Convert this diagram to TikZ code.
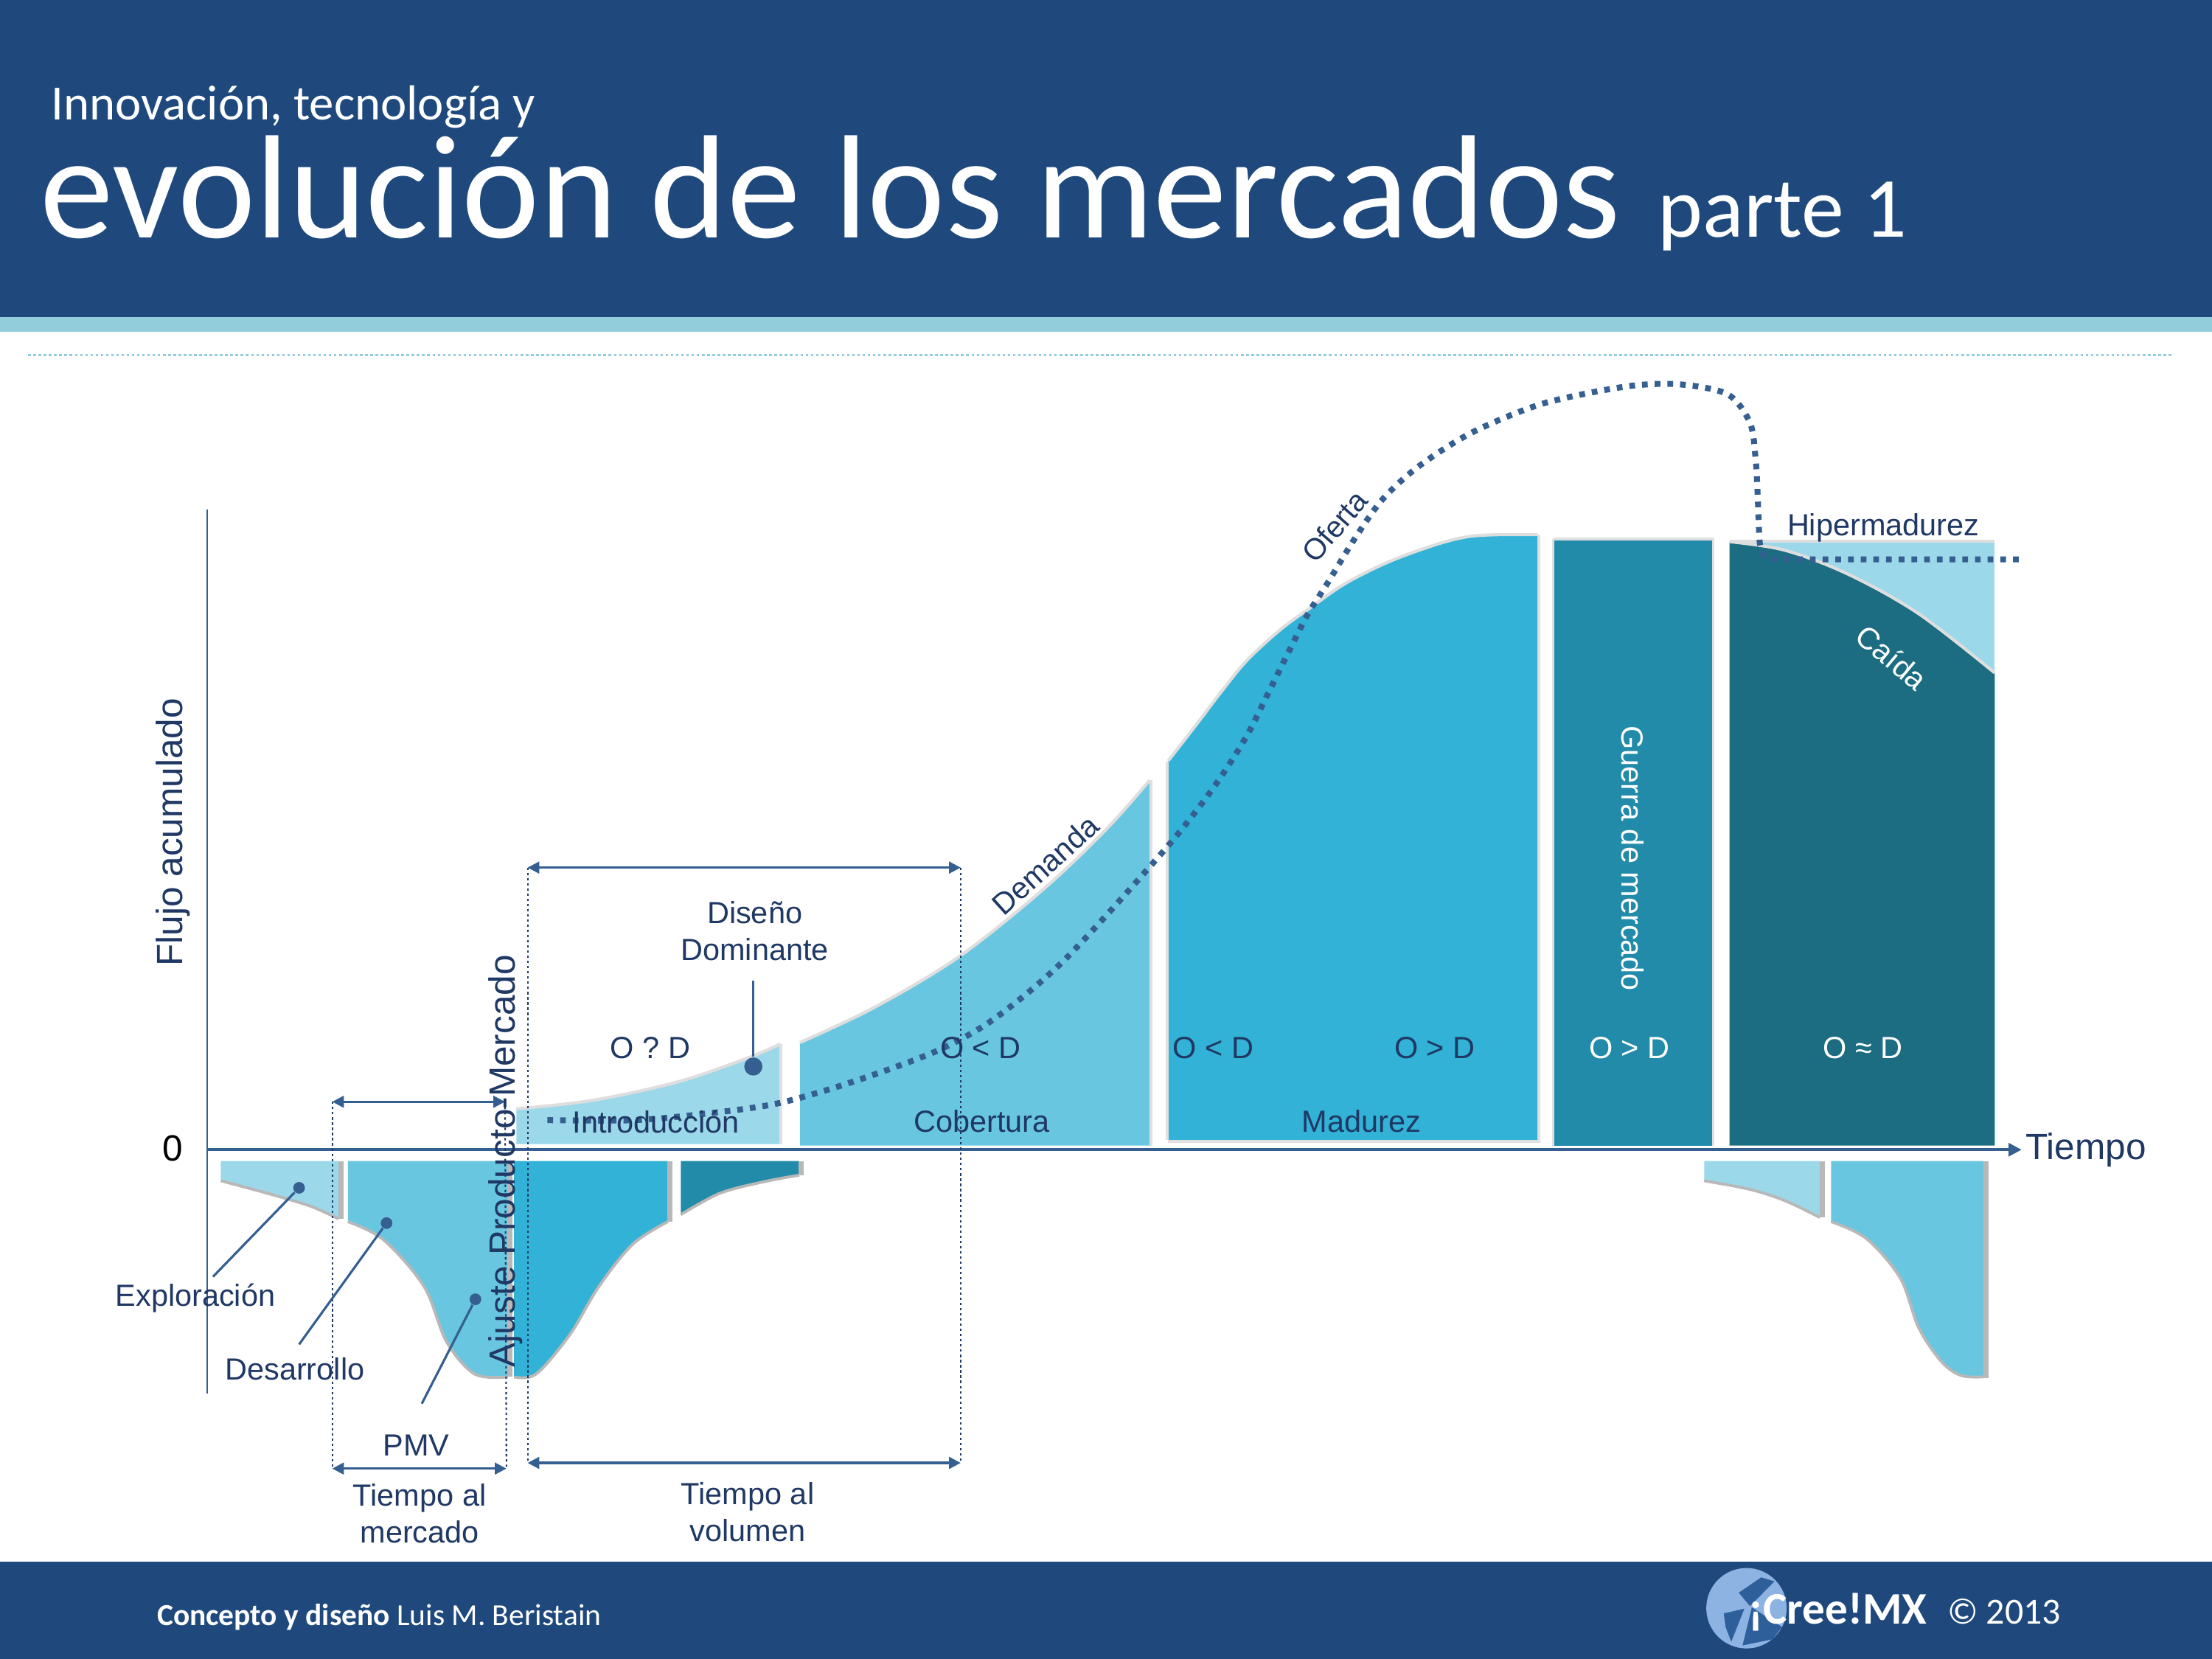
\documentclass[tikz,border=0pt]{standalone}
\usepackage{fontspec}
\setmainfont{Liberation Sans}
\newfontfamily\calib{Carlito}
\usetikzlibrary{arrows.meta}
\definecolor{hdr}{HTML}{1F497D}
\definecolor{strip}{HTML}{92CDDC}
\definecolor{lineb}{HTML}{365F91}
\definecolor{ink}{HTML}{1F3864}
\definecolor{cA}{HTML}{9BD8EA}
\definecolor{cB}{HTML}{69C6E0}
\definecolor{cC}{HTML}{32B2D6}
\definecolor{cD}{HTML}{228BAA}
\definecolor{cE}{HTML}{1C6C82}
\definecolor{logoA}{HTML}{8DB3E2}
\definecolor{logoB}{HTML}{2F5F9A}
\newcommand\lab{\fontsize{11.8}{14.2}\selectfont}
\newcommand\axlab{\fontsize{14.1}{17}\selectfont}
\tikzset{
  x=0.019133cm,y=-0.019133cm,
  crv/.style={smooth,tension=0.55},
  topedge/.style={draw=black!13,line width=1.2pt,line cap=butt},
  botedge/.style={draw=black!28,line width=1.1pt},
  rightedge/.style={draw=black!28,line width=2pt},
  sideedge/.style={draw=black!12,line width=1pt},
  txt/.style={text=ink,font=\lab,align=center,inner sep=0pt},
  wtxt/.style={text=white,font=\lab,align=center,inner sep=0pt},
  dim/.style={lineb,line width=0.9pt,{Triangle[width=4.5pt,length=4.5pt]}-{Triangle[width=4.5pt,length=4.5pt]}},
  guide/.style={ink,line width=0.6pt,dash pattern=on 0.9pt off 1.1pt},
  offer/.style={lineb,line width=2.3pt,dash pattern=on 2.2pt off 2.7pt},
  callout/.style={lineb,line width=0.9pt},
  dotn/.style={circle,fill=lineb,inner sep=0pt,minimum size=#1}
}
\def\curveIntro{(366,786) (420,780) (480,767) (530,750) (553,740)}
\def\curveCob{(567,739) (620,714) (680,678) (740,630) (785,587) (815,553)}
\def\curveMad{(828,539.4) (847,515) (866,490) (884,468) (908,446) (930,430) (954,413.4) (985,398) (1018,386) (1040,380.5) (1062,379) (1090,379)}
\def\curveFall{(1226,384) (1265,390) (1310,407) (1360,435) (1414,477)}
\def\curveExp{(156.5,837) (190,846) (220,855) (240,864)}
\def\curveDes{(246.6,866) (272,879) (300.6,912) (316.5,951) (336.5,974) (360,976)}
\def\curvePmv{(364.4,976) (380,974) (404,946) (424.5,912) (448.5,882) (473.4,866)}
\def\curveDark{(482.6,861) (510,846) (540,838) (566.6,833)}
\def\curveRA{(1208,837) (1240,843) (1265,851) (1290,863)}
\def\curveRB{(1298,866) (1323,878) (1347,906) (1360,941) (1376,965) (1390,975) (1406,976)}
\begin{document}
\begin{tikzpicture}
\useasboundingbox (0,0) rectangle (1568,1176);
% bands
\fill[hdr] (0,0) rectangle (1568,225);
\fill[strip] (0,225) rectangle (1568,235);
\fill[hdr] (0,1107) rectangle (1568,1176);
\draw[strip,line width=0.8pt,dash pattern=on 1pt off 1pt] (20,251.5) -- (1540,251.5);
% title
\node[anchor=base west,inner sep=0pt,text=white,font=\calib\fontsize{19}{22}\selectfont] (t1) at (36,85) {Innovación, tecnología y};
\node[anchor=base west,inner sep=0pt,text=white,font=\calib\fontsize{56.8}{64}\selectfont] (t2) at (28,168.5) {evolución de los mercados};
\node[anchor=base west,inner sep=0pt,text=white,font=\calib\fontsize{33}{38}\selectfont] (t3) at (1175,168) {parte 1};
% upper areas
\fill[cA] plot[crv] coordinates {\curveIntro} -- (553,811) -- (366,811) -- cycle;
\draw[topedge] plot[crv] coordinates {\curveIntro};
\draw[sideedge] (553.5,740) -- (553.5,811);
\fill[cB] plot[crv] coordinates {\curveCob} -- (815,812) -- (567,812) -- cycle;
\draw[topedge] plot[crv] coordinates {\curveCob};
\fill[cC] plot[crv] coordinates {\curveMad} -- (1090,808) -- (828,808) -- cycle;
\draw[topedge] plot[crv] coordinates {\curveMad};
\draw[sideedge] (816,553) -- (816,812) (827.5,540) -- (827.5,808) (828,809) -- (1091,809) -- (1091,379);
\fill[cD] (1101,382) rectangle (1214,812);
\draw[sideedge] (1101,382) -- (1214.5,382) -- (1214.5,812) (1101,382) -- (1101,812);
\fill[cA] (1226,384) rectangle (1414,478);
\fill[cE] plot[crv] coordinates {\curveFall} -- (1414,812) -- (1226,812) -- cycle;
\draw[topedge] (1226,383.5) -- (1414,383.5);
\draw[topedge] plot[crv] coordinates {\curveFall};
% lower areas
\fill[cA] (156.5,823) -- plot[crv] coordinates {\curveExp} -- (240,823) -- cycle;
\draw[botedge] plot[crv] coordinates {\curveExp};
\draw[rightedge] (241.5,864) -- (241.5,823);
\fill[cB] (246.6,823) -- plot[crv] coordinates {\curveDes} -- (360,823) -- cycle;
\draw[botedge] plot[crv] coordinates {\curveDes};
\draw[rightedge] (361.5,976) -- (361.5,823);
\fill[cC] (364.4,823) -- plot[crv] coordinates {\curvePmv} -- (473.4,823) -- cycle;
\draw[botedge] plot[crv] coordinates {\curvePmv};
\draw[rightedge] (475,866) -- (475,823);
\fill[cD] (482.6,823) -- plot[crv] coordinates {\curveDark} -- (566.6,823) -- cycle;
\draw[botedge] plot[crv] coordinates {\curveDark};
\draw[rightedge] (568,833) -- (568,823);
\fill[cA] (1208,823) -- plot[crv] coordinates {\curveRA} -- (1290,823) -- cycle;
\draw[botedge] plot[crv] coordinates {\curveRA};
\draw[rightedge] (1292,863) -- (1292,823);
\fill[cB] (1298,823) -- plot[crv] coordinates {\curveRB} -- (1406,823) -- cycle;
\draw[botedge] plot[crv] coordinates {\curveRB};
\draw[rightedge] (1408,977) -- (1408,823);
% axes
\coordinate (yTop) at (147,361);
\coordinate (yBot) at (147,988);
\node[inner sep=0pt,anchor=west,text=ink,font=\axlab] (tiempo) at (1435.5,815) {Tiempo};
\coordinate (xStart) at (147,815);
\coordinate (xEnd) at (1433,815);
\draw[lineb,line width=0.55pt] (yTop) -- (yBot);
\draw[lineb,line width=1.1pt,-{Triangle[width=5pt,length=5pt]}] (xStart) -- (xEnd);
% guides
\coordinate (gA1) at (374,615); \coordinate (gA2) at (374,1037);
\coordinate (gB1) at (681,615); \coordinate (gB2) at (681,1037);
\coordinate (gC1) at (235.5,781); \coordinate (gC2) at (235.5,1041);
\coordinate (gD1) at (358,781); \coordinate (gD2) at (359,1041);
\draw[guide] (gA1) -- (gA2);
\draw[guide] (gB1) -- (gB2);
\draw[guide] (gC1) -- (gC2);
\draw[guide] (gD1) -- (gD2);
\draw[dim] (gA1) -- (gB1);
\draw[dim] (gA2) -- (gB2);
\draw[dim] (gC1) -- (gD1);
\draw[dim] (gC2) -- (gD2);
% offer curve
\draw[offer] plot[smooth,tension=0.5] coordinates {(388,794) (450,794) (504,789) (552,782) (604,767) (664,745) (705,722) (755,680) (825,603) (859,560) (883,523) (899,491.3) (915,459) (927,435.4) (941,413.4) (960,382.3) (980,354) (1006,330.3) (1044,306.3) (1094,286) (1152.6,274) (1190,272.4) (1224.6,279.5) (1240.6,300) (1244.6,327) (1246,353) (1247,379)} .. controls (1247.5,392) and (1250,396.5) .. (1258,396.5) -- (1431,396.5);
% callouts
\node[dotn=4.5pt] (dE) at (212,842) {};
\node[dotn=4.5pt] (dD) at (274,867) {};
\node[dotn=4.5pt] (dP) at (337,921) {};
\node[dotn=7pt] (dO) at (534,756) {};
\coordinate (fE) at (151,905); \coordinate (fD) at (212,953); \coordinate (fP) at (299,995); \coordinate (fO) at (534,695);
\draw[callout] (dE) -- (fE);
\draw[callout] (dD) -- (fD);
\draw[callout] (dP) -- (fP);
\draw[callout] (dO) -- (fO);
% texts
\node[inner sep=0pt,text=black,font=\axlab] (zero) at (122.5,814) {0};
\node[inner sep=0pt,text=ink,font=\axlab,rotate=90] (flujo) at (122.5,590) {Flujo acumulado};
\node[inner sep=0pt,text=ink,font=\axlab,rotate=90] (ajuste) at (358.5,823) {Ajuste Producto-Mercado};
\node[txt] (diseno) at (535,660) {Diseño\\Dominante};
\node[txt] (n1) at (461,743) {O ? D};
\node[txt] (n2) at (695,743) {O < D};
\node[txt] (n3) at (860,743) {O < D};
\node[txt] (n4) at (1017,743) {O > D};
\node[wtxt] (n5) at (1155,743) {O > D};
\node[wtxt] (n6) at (1320.5,743) {O ≈ D};
\node[txt] (intro) at (465,795) {Introducción};
\node[txt] (cob) at (696,795) {Cobertura};
\node[txt] (mad) at (965,795) {Madurez};
\node[txt] (hip) at (1335,374) {Hipermadurez};
\node[txt] (expl) at (138.5,920) {Exploración};
\node[txt] (desa) at (209,970.5) {Desarrollo};
\node[txt] (pmv) at (295,1024.5) {PMV};
\node[txt] (tm) at (297.5,1073) {Tiempo al\\mercado};
\node[txt] (tv) at (530,1072) {Tiempo al\\volumen};
\node[txt,font=\fontsize{11.7}{14}\selectfont,rotate=42] (dem) at (741,613) {Demanda};
\node[txt,font=\fontsize{11.5}{14}\selectfont,rotate=49] (ofe) at (946,373) {Oferta};
\node[wtxt,rotate=-90] (gue) at (1157.5,608.5) {Guerra de mercado};
\node[wtxt,rotate=-40] (cai) at (1341,466) {Caída};
% footer
\node[anchor=base west,inner sep=0pt,text=white,font=\calib\fontsize{11.8}{14}\selectfont] (foot) at (111,1152) {\textbf{Concepto y diseño} Luis M. Beristain};
\fill[logoA] (1238,1140) circle (28.5);
\fill[logoB] (1232.5,1129) -- (1248.5,1118.1) -- (1257.8,1121) -- (1240.5,1138.5) -- cycle;
\fill[logoB] (1221.9,1143.7) -- (1236.5,1140.3) -- (1227.2,1163.8) -- (1223.2,1153.3) -- cycle;
\fill[logoB] (1241.8,1139.4) -- (1263.2,1153.3) -- (1256.5,1162) -- (1235.2,1166.4) -- cycle;
\node[anchor=base west,inner sep=0pt,text=white,font=\calib\bfseries\fontsize{17.4}{20}\selectfont] (logo) at (1239,1151) {¡Cree!MX};
\node[anchor=base west,inner sep=0pt,text=white,font=\calib\fontsize{14.2}{16}\selectfont] (copy) at (1380,1151) {© 2013};
\end{tikzpicture}
\end{document}
